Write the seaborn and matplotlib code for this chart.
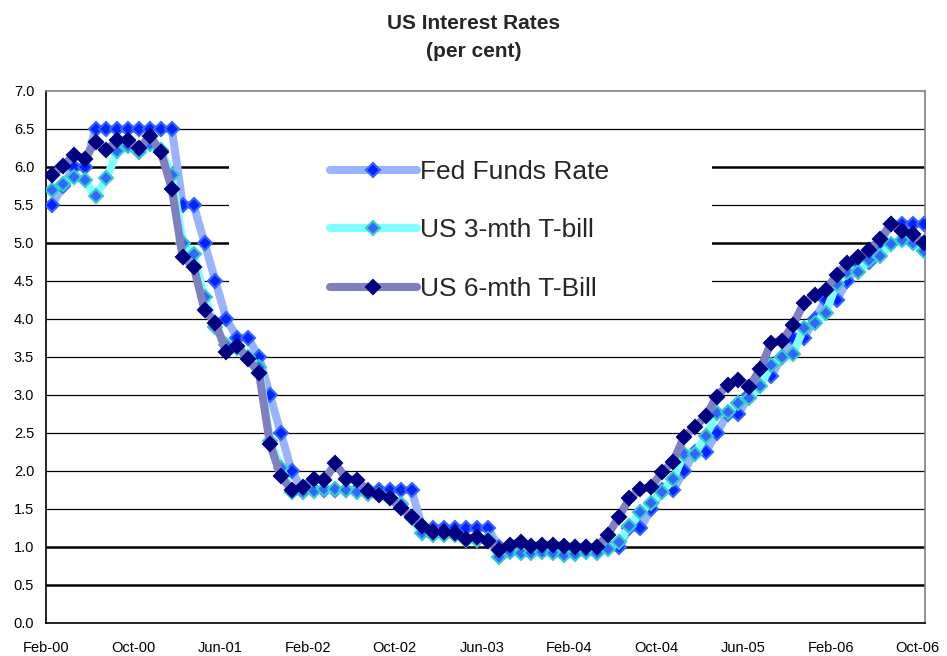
import numpy as np
import pandas as pd
import matplotlib
matplotlib.use('Agg')
import matplotlib.pyplot as plt
from matplotlib.patches import Rectangle
import seaborn as sns

# monthly data, Feb-00 .. Oct-06
fed_funds = [5.5, 5.75, 6.0, 6.0, 6.5, 6.5, 6.5, 6.5, 6.5, 6.5, 6.5, 6.5,
             5.5, 5.5, 5.0, 4.5, 4.0, 3.75, 3.75, 3.5, 3.0, 2.5, 2.0, 1.75,
             1.75, 1.75, 1.75, 1.75, 1.75, 1.75, 1.75, 1.75, 1.75, 1.75, 1.25, 1.25,
             1.25, 1.25, 1.25, 1.25, 1.25, 1.0, 1.0, 1.0, 1.0, 1.0, 1.0, 1.0,
             1.0, 1.0, 1.0, 1.0, 1.0, 1.25, 1.25, 1.5, 1.75, 1.75, 2.0, 2.25,
             2.25, 2.5, 2.75, 2.75, 3.0, 3.25, 3.25, 3.5, 3.75, 3.75, 4.0, 4.25,
             4.25, 4.5, 4.75, 4.75, 5.0, 5.25, 5.25, 5.25, 5.25]
tbill_3m = [5.70, 5.78, 5.87, 5.83, 5.62, 5.85, 6.21, 6.27, 6.20, 6.30, 6.22, 5.89,
            5.00, 4.86, 4.29, 3.89, 3.66, 3.62, 3.50, 3.37, 2.40, 2.04, 1.73, 1.73,
            1.74, 1.76, 1.76, 1.75, 1.73, 1.70, 1.70, 1.64, 1.57, 1.38, 1.18, 1.16,
            1.16, 1.16, 1.09, 1.09, 1.11, 0.87, 0.94, 0.92, 0.92, 0.93, 0.92, 0.90,
            0.91, 0.94, 0.92, 0.98, 1.06, 1.27, 1.46, 1.58, 1.73, 1.89, 2.23, 2.23,
            2.46, 2.76, 2.77, 2.89, 2.96, 3.12, 3.39, 3.50, 3.54, 3.88, 3.95, 4.08,
            4.46, 4.62, 4.62, 4.78, 4.83, 4.99, 5.04, 5.00, 4.89]
tbill_6m = [5.89, 6.01, 6.16, 6.11, 6.33, 6.22, 6.35, 6.35, 6.25, 6.41, 6.20, 5.71,
            4.81, 4.69, 4.12, 3.95, 3.57, 3.64, 3.47, 3.29, 2.36, 1.93, 1.75, 1.79,
            1.90, 1.88, 2.10, 1.90, 1.88, 1.74, 1.68, 1.65, 1.51, 1.40, 1.28, 1.20,
            1.20, 1.18, 1.11, 1.13, 1.08, 0.96, 1.03, 1.06, 1.01, 1.03, 1.03, 1.01,
            1.00, 1.00, 1.00, 1.16, 1.39, 1.64, 1.76, 1.79, 1.99, 2.12, 2.45, 2.58,
            2.72, 2.98, 3.13, 3.20, 3.11, 3.34, 3.69, 3.71, 3.92, 4.21, 4.32, 4.38,
            4.58, 4.74, 4.81, 4.91, 5.05, 5.25, 5.16, 5.12, 5.00]
tick_labels = ['Feb-00', 'Oct-00', 'Jun-01', 'Feb-02', 'Oct-02', 'Jun-03',
               'Feb-04', 'Oct-04', 'Jun-05', 'Feb-06', 'Oct-06']

df = pd.DataFrame({'month': np.arange(len(fed_funds)),
                   'Fed Funds Rate': fed_funds,
                   'US 3-mth T-bill': tbill_3m,
                   'US 6-mth T-Bill': tbill_6m})

sns.set_style('white')
plt.rcParams['font.family'] = ['Liberation Sans', 'DejaVu Sans']

fig = plt.figure(figsize=(9.47, 6.56), dpi=100)
ax = fig.add_axes([46 / 947, 33 / 656, 879 / 947, 532 / 656])

styles = {
    'Fed Funds Rate': dict(color='#99B3FF', mfc='#0022FF', mec='#3366FF'),
    'US 3-mth T-bill': dict(color='#80FFFF', mfc='#3366FF', mec='#33CCCC'),
    'US 6-mth T-Bill': dict(color='#8080C0', mfc='#000080', mec='#000080'),
}
for name, st in styles.items():
    sns.lineplot(data=df, x='month', y=name, ax=ax, label=name,
                 color=st['color'], lw=5.8, marker='D', markersize=6.8,
                 markerfacecolor=st['mfc'], markeredgecolor=st['mec'],
                 markeredgewidth=1.5, zorder=3)

ax.set_xlim(-0.52, 80.12)
ax.set_ylim(0, 7)
ax.set_xticks(np.arange(0, 81, 8) - 0.55)
ax.set_xticklabels(tick_labels)
ax.set_yticks(np.arange(0, 7.01, 0.5))
ax.set_yticklabels([f'{v:.1f}' for v in np.arange(0, 7.01, 0.5)])
ax.set_xlabel('')
ax.set_ylabel('')
ax.tick_params(axis='both', labelsize=10.5, colors='black', direction='out',
               length=5, width=1)
ax.tick_params(axis='x', pad=8)

ax.set_axisbelow(True)
ax.yaxis.grid(True, color='black', lw=0.9)
ax.xaxis.grid(False)
for gl, v in zip(ax.get_ygridlines(), np.arange(0, 7.01, 0.5)):
    if v in (0.5, 1.0, 5.0, 6.0):
        gl.set_linewidth(1.8)
    if v == 7.0:
        gl.set_visible(False)

for s in ['left', 'bottom']:
    ax.spines[s].set_color('black')
    ax.spines[s].set_linewidth(1.2)
for s in ['top', 'right']:
    ax.spines[s].set_color('#808080')
    ax.spines[s].set_linewidth(1.2)

# white legend area covering the gridlines
ax.add_patch(Rectangle((0.208, 0.605), 0.550, 0.29, transform=ax.transAxes,
                       facecolor='white', edgecolor='none', zorder=1))
leg = ax.legend(loc='upper left', bbox_to_anchor=(0.323, 0.870), frameon=False,
                fontsize=19, handlelength=3.3, handletextpad=0.1,
                labelspacing=1.3, borderpad=0, borderaxespad=0, numpoints=1)

fig.text(0.5, 1 - 29 / 656, 'US Interest Rates', ha='center', va='baseline',
         fontsize=15, fontweight='bold')
fig.text(0.5, 1 - 57 / 656, '(per cent)', ha='center', va='baseline',
         fontsize=15, fontweight='bold')

fig.savefig('out.png', dpi=100)
